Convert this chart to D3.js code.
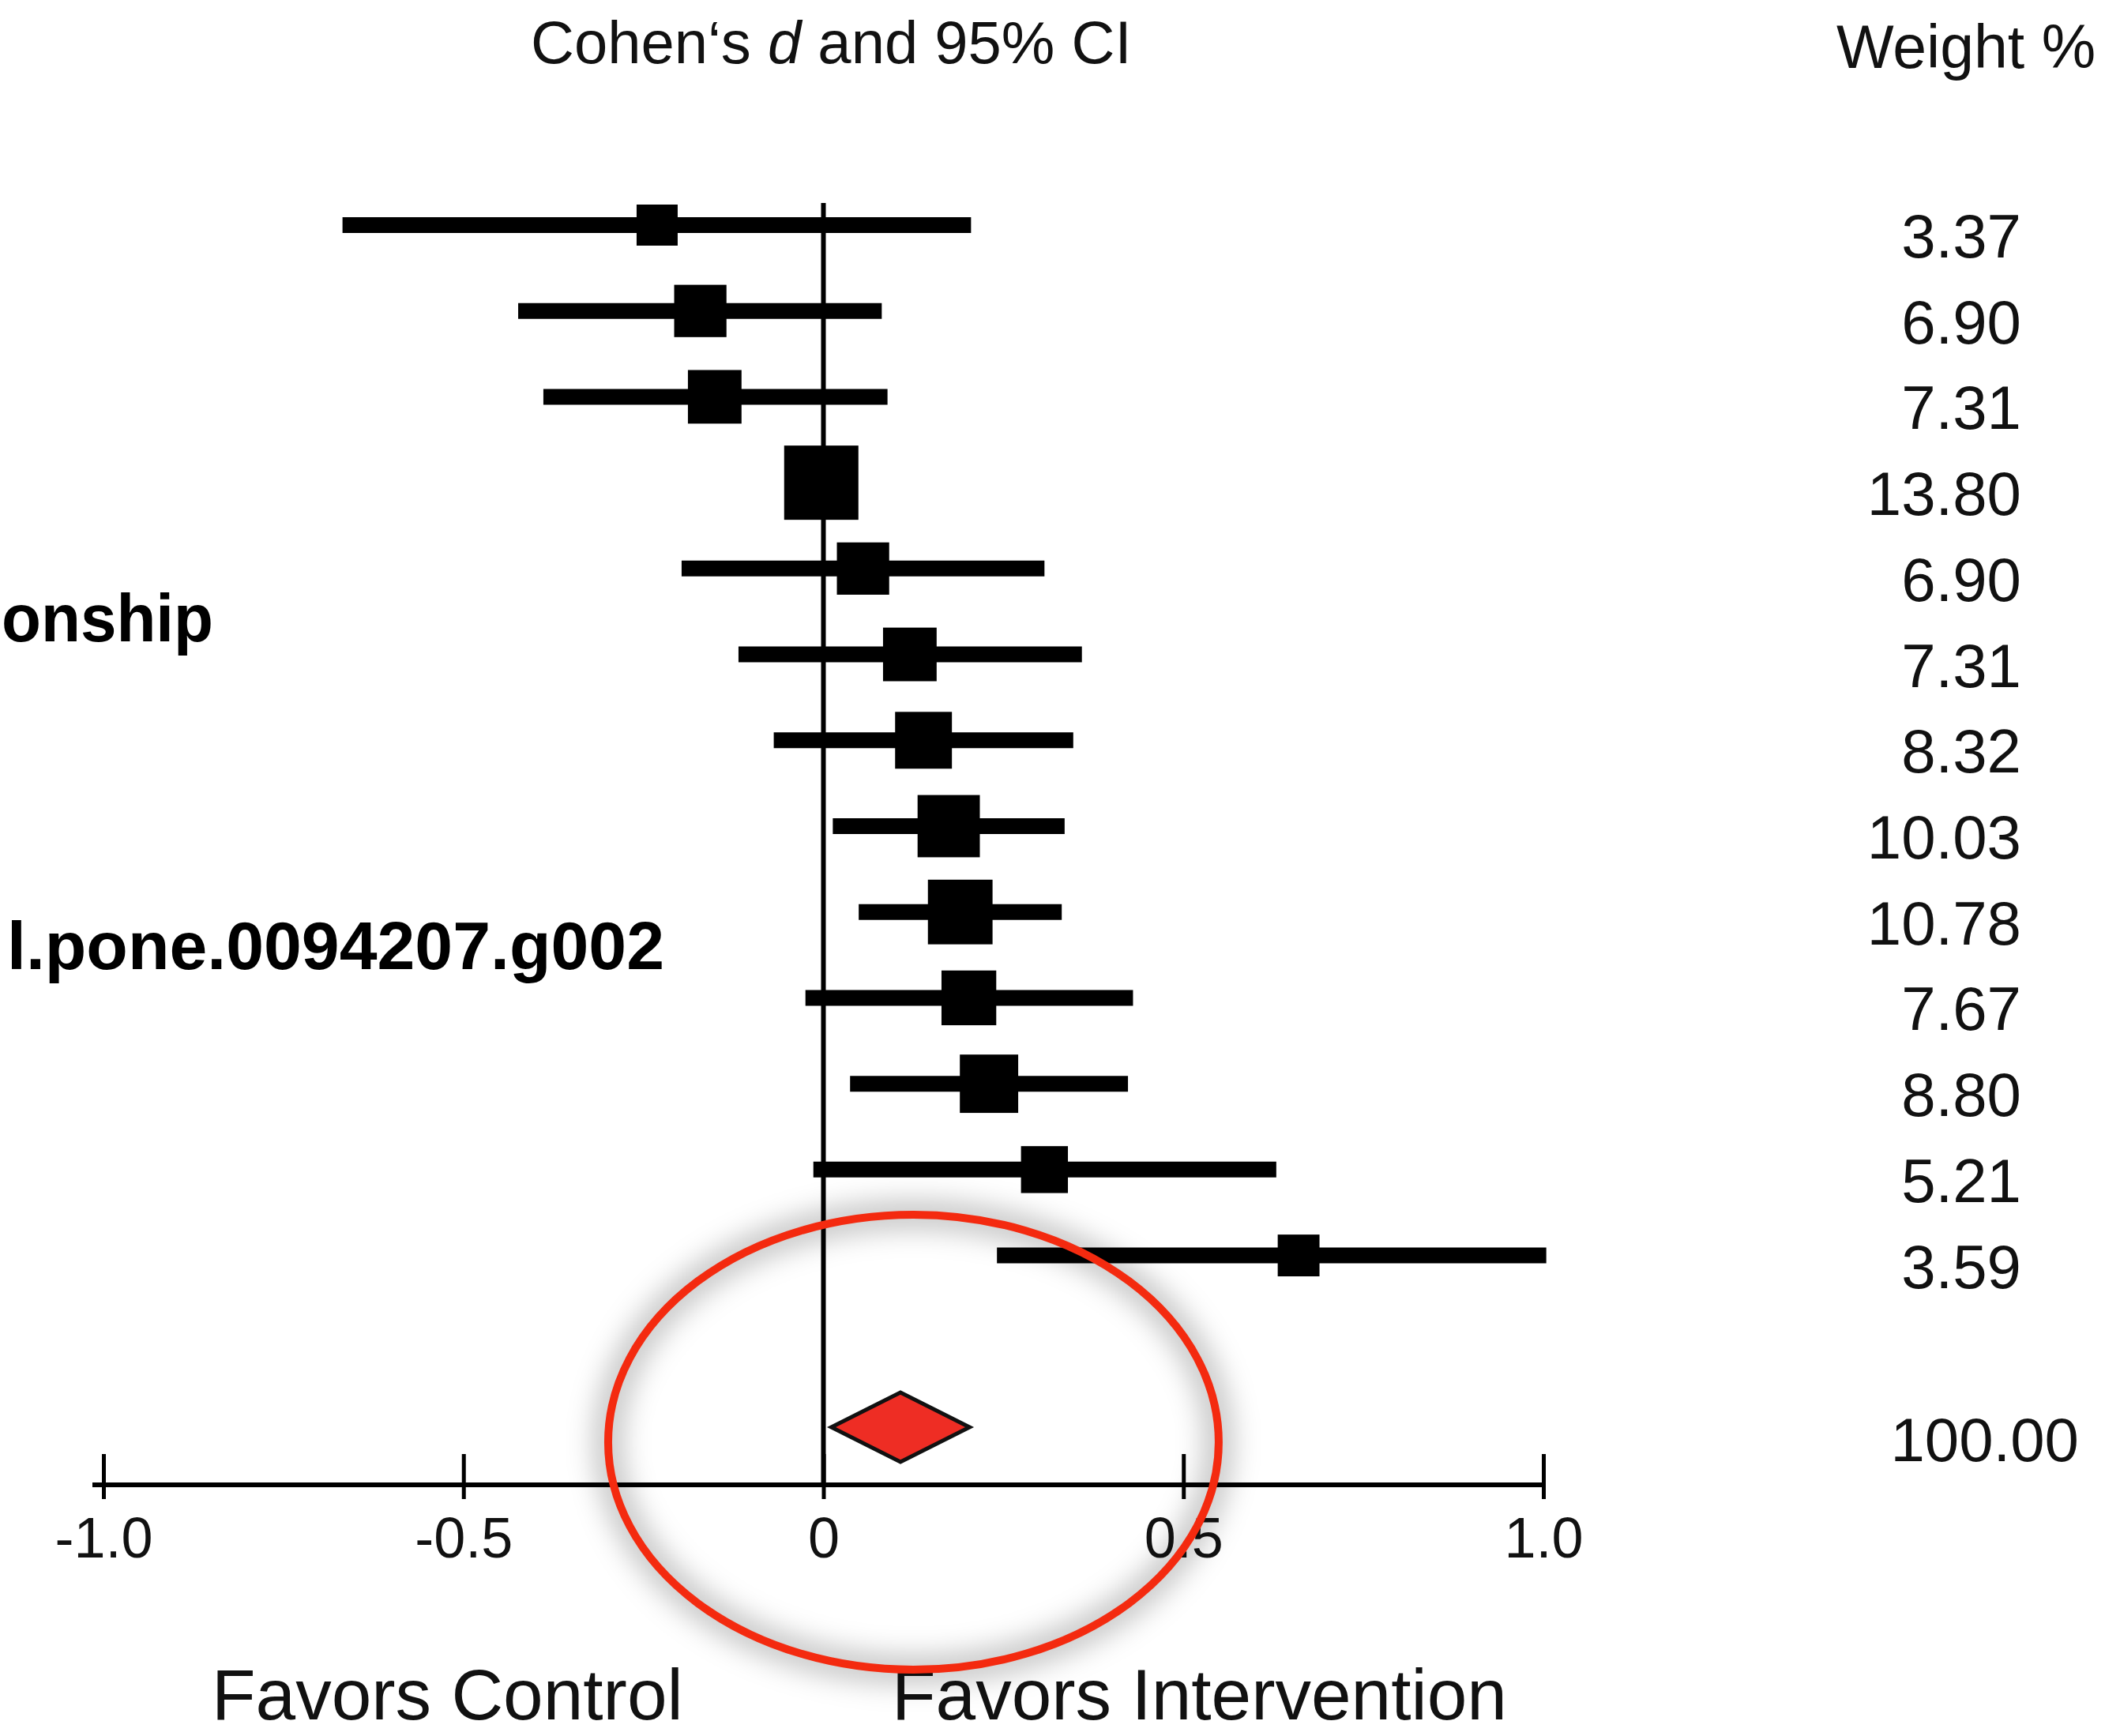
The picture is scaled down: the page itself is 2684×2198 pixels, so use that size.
<!DOCTYPE html>
<html>
<head>
<meta charset="utf-8">
<script src="https://cdn.jsdelivr.net/npm/d3@7"></script>
<style>
	body { margin: 0; background: #fff; }
	svg { display: block; font-family: 'Liberation Sans', Arial, sans-serif; }
</style>
</head>
<body>
<script>
// study rows, top to bottom
const studies = ['1', '2', '3', '4', '5', '6', '7', '8', '9', '10', '11', '12', '13'];
const estimates = [-0.231, -0.171, -0.151, -0.003, 0.055, 0.120, 0.139, 0.174, 0.190, 0.202, 0.230, 0.307, 0.660];
const lower = [-0.668, -0.424, -0.389, -0.040, -0.197, -0.118, -0.069, 0.013, 0.049, -0.025, 0.037, -0.014, 0.241];
const upper = [0.205, 0.081, 0.089, 0.035, 0.307, 0.359, 0.347, 0.335, 0.331, 0.430, 0.423, 0.629, 1.004];
const weights = [3.37, 6.90, 7.31, 13.80, 6.90, 7.31, 8.32, 10.03, 10.78, 7.67, 8.80, 5.21, 3.59];

// pooled effect
const summary = { estimate: 0.107, lower: 0.011, upper: 0.203, weight: 100.00 };

const x_ticks = [-1, -0.5, 0, 0.5, 1];
const side_labels = ['Favors Control', 'Favors Intervention'];
// fragments of a caption that sits partly off the page
const stray_labels = ['onship', 'l.pone.0094207.g002'];

const width = 2684;
const height = 2198;

const rows = studies.map((s, i) => ({
	key: s, estimate: estimates[i], lower: lower[i], upper: upper[i], weight: weights[i]
}));

const x = d3.scaleLinear()
	.domain([-1, 1])
	.range([131, 1954]);
// blank row between the studies and the pooled estimate
const y = d3.scalePoint()
	.domain([...studies, 'gap', 'summary'])
	.range([285, 1807]);
const boxsize = d3.scaleLinear()
	.domain([3.37, 13.8])
	.range([52, 94]);
const axis_y = 1880;

const svg = d3.select('body').append('svg')
	.attr('width', width)
	.attr('height', height);

// headers
svg.append('text')
	.attr('x', 672)
	.attr('y', 80)
	.style('font-size', '76px')
	.attr('fill', '#111')
	.call(t => {
		t.append('tspan').text('Cohen\u2018s ');
		t.append('tspan').style('font-style', 'italic').text('d');
		t.append('tspan').text(' and 95% CI');
	});
svg.append('text')
	.attr('x', 2325)
	.attr('y', 86)
	.style('font-size', '77px')
	.attr('fill', '#111')
	.text('Weight %');

svg.selectAll('text.stray')
	.data(stray_labels)
	.join('text')
	.attr('class', 'stray')
	.attr('x', (d, i) => i === 0 ? 2 : 9)
	.attr('y', (d, i) => i === 0 ? 812 : 1227)
	.attr('textLength', (d, i) => i === 0 ? 268 : 832)
	.attr('lengthAdjust', 'spacingAndGlyphs')
	.style('font-size', '86px')
	.style('font-weight', 'bold')
	.text(d => d);

// line of no effect
svg.append('line')
	.attr('x1', x(0)).attr('x2', x(0))
	.attr('y1', 257).attr('y2', axis_y)
	.attr('stroke', '#000')
	.attr('stroke-width', 6);

// CI whiskers and weighted boxes
const groups = svg.selectAll('g.study')
	.data(rows)
	.join('g')
	.attr('class', 'study');
groups.append('line')
	.attr('x1', d => x(d.lower))
	.attr('x2', d => x(d.upper))
	.attr('y1', d => y(d.key))
	.attr('y2', d => y(d.key))
	.attr('stroke', '#000')
	.attr('stroke-width', 20);
groups.append('rect')
	.attr('x', d => x(d.estimate) - boxsize(d.weight) / 2)
	.attr('y', d => y(d.key) - boxsize(d.weight) / 2)
	.attr('width', d => boxsize(d.weight))
	.attr('height', d => boxsize(d.weight))
	.attr('fill', '#000');
groups.append('text')
	.attr('x', 2559)
	.attr('y', d => y(d.key) + 41)
	.attr('text-anchor', 'end')
	.style('font-size', '78px')
	.attr('fill', '#111')
	.text(d => d3.format('.2f')(d.weight));

// pooled diamond
const sy = y('summary');
svg.append('path')
	.attr('d', `M${x(summary.lower)},${sy} L${x(summary.estimate)},${sy - 44} L${x(summary.upper)},${sy} L${x(summary.estimate)},${sy + 44} Z`)
	.attr('fill', '#ee2d24')
	.attr('stroke', '#111')
	.attr('stroke-width', 5)
	.attr('stroke-linejoin', 'miter');
svg.append('text')
	.attr('x', 2632)
	.attr('y', sy + 43)
	.attr('text-anchor', 'end')
	.style('font-size', '78px')
	.attr('fill', '#111')
	.text(d3.format('.2f')(summary.weight));

// x axis
svg.append('line')
	.attr('x1', x(-1) - 14).attr('x2', x(1))
	.attr('y1', axis_y).attr('y2', axis_y)
	.attr('stroke', '#000')
	.attr('stroke-width', 6);
const gx = svg.append('g')
	.attr('transform', `translate(0,${axis_y})`)
	.call(d3.axisBottom(x)
		.tickValues(x_ticks)
		.tickSizeOuter(0)
		.tickFormat(d => d === 0 ? '0' : d.toFixed(1)));
gx.select('.domain').remove();
gx.selectAll('.tick line')
	.attr('y1', -39)
	.attr('y2', 18)
	.attr('stroke', '#000')
	.attr('stroke-width', 5);
gx.selectAll('.tick text')
	.attr('y', 92)
	.attr('dy', 0)
	.attr('fill', '#111')
	.style('font-size', '72px')
	.style('font-family', "'Liberation Sans', Arial, sans-serif");

svg.selectAll('text.side')
	.data(side_labels)
	.join('text')
	.attr('class', 'side')
	.attr('x', (d, i) => i === 0 ? 268 : 1129)
	.attr('y', 2177)
	.style('font-size', '91px')
	.attr('fill', '#111')
	.text(d => d);

// hand drawn red ring round the pooled estimate
const defs = svg.append('defs');
defs.append('filter')
	.attr('id', 'soft')
	.attr('x', '-30%').attr('y', '-30%')
	.attr('width', '160%').attr('height', '160%')
	.append('feGaussianBlur')
	.attr('stdDeviation', 18);

const ring = { cx: x(0.125), cy: sy + 19, rx: x(0.549) - x(0.125), ry: 288 };
svg.append('ellipse')
	.attr('cx', ring.cx).attr('cy', ring.cy)
	.attr('rx', ring.rx).attr('ry', ring.ry)
	.attr('fill', 'none')
	.attr('stroke', '#000')
	.attr('stroke-opacity', 0.28)
	.attr('stroke-width', 30)
	.attr('filter', 'url(#soft)');
svg.selectAll('ellipse.ring')
	.data([[0, 0, 10, 1], [3, -2, 2.5, 0.8], [-3, 3, 2, 0.7]])
	.join('ellipse')
	.attr('class', 'ring')
	.attr('cx', ring.cx)
	.attr('cy', ring.cy)
	.attr('rx', d => ring.rx + d[0])
	.attr('ry', d => ring.ry + d[1])
	.attr('fill', 'none')
	.attr('stroke', '#f42b10')
	.attr('stroke-width', d => d[2])
	.attr('stroke-opacity', d => d[3]);
</script>
</body>
</html>
